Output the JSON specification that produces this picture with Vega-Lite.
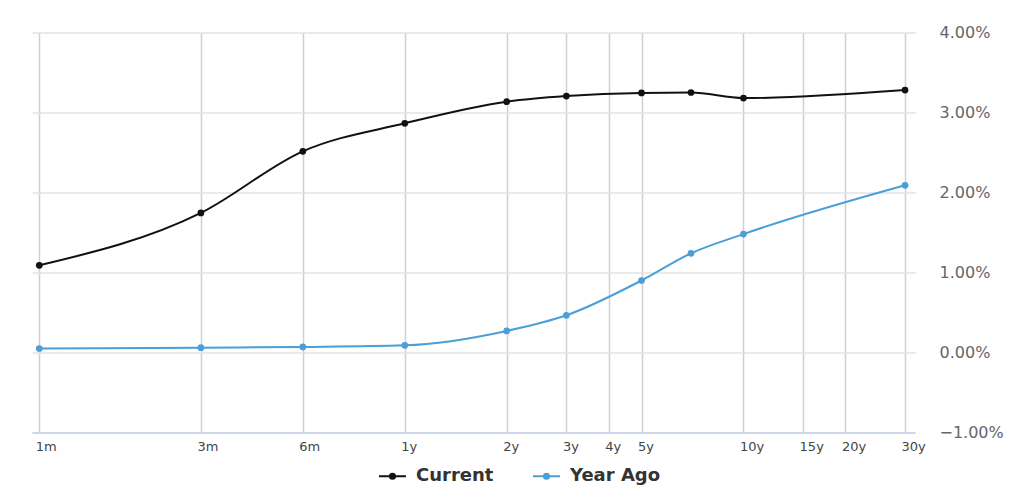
{
  "$schema": "https://vega.github.io/schema/vega-lite/v6.json",
  "width": 883,
  "height": 400,
  "autosize": {"type": "none"},
  "padding": {"left": 32, "top": 32.5, "right": 109, "bottom": 69.5},
  "background": "white",
  "config": {
    "view": {"stroke": null},
    "font": "DejaVu Sans",
    "axis": {"labelFont": "DejaVu Sans"},
    "legend": {"labelFont": "DejaVu Sans"}
  },
  "data": {
    "values": [
      {"series": "Current", "years": 0.0833333, "yield": 1.09},
      {"series": "Current", "years": 0.25, "yield": 1.745},
      {"series": "Current", "years": 0.5, "yield": 2.515},
      {"series": "Current", "years": 1, "yield": 2.865},
      {"series": "Current", "years": 2, "yield": 3.135},
      {"series": "Current", "years": 3, "yield": 3.205},
      {"series": "Current", "years": 5, "yield": 3.245},
      {"series": "Current", "years": 7, "yield": 3.25},
      {"series": "Current", "years": 10, "yield": 3.18},
      {"series": "Current", "years": 30, "yield": 3.28},
      {"series": "Year Ago", "years": 0.0833333, "yield": 0.05},
      {"series": "Year Ago", "years": 0.25, "yield": 0.06},
      {"series": "Year Ago", "years": 0.5, "yield": 0.07},
      {"series": "Year Ago", "years": 1, "yield": 0.09},
      {"series": "Year Ago", "years": 2, "yield": 0.27},
      {"series": "Year Ago", "years": 3, "yield": 0.465},
      {"series": "Year Ago", "years": 5, "yield": 0.9},
      {"series": "Year Ago", "years": 7, "yield": 1.24},
      {"series": "Year Ago", "years": 10, "yield": 1.48},
      {"series": "Year Ago", "years": 30, "yield": 2.09}
    ]
  },
  "encoding": {
    "x": {
      "field": "years",
      "type": "quantitative",
      "scale": {"type": "log", "domain": [0.0793, 32.1], "nice": false},
      "axis": {
        "values": [0.0833333, 0.25, 0.5, 1, 2, 3, 4, 5, 10, 15, 20, 30],
        "labelExpr": "datum.value < 1 ? round(datum.value * 12) + 'm' : datum.value + 'y'",
        "grid": true,
        "gridColor": "#d0d0d0",
        "gridWidth": 1.5,
        "domainColor": "#ccd6eb",
        "domainWidth": 2,
        "ticks": false,
        "labelAlign": "left",
        "labelOffset": -4,
        "labelPadding": 8,
        "labelFontSize": 13,
        "labelColor": "#444444",
        "labelFlush": false,
        "labelOverlap": false,
        "title": null
      }
    },
    "y": {
      "field": "yield",
      "type": "quantitative",
      "scale": {"domain": [-1, 4], "nice": false, "zero": false},
      "axis": {
        "orient": "right",
        "values": [-1, 0, 1, 2, 3, 4],
        "labelExpr": "format(datum.value, '.2f') + '%'",
        "grid": true,
        "gridColor": {"condition": {"test": "datum.value == -1", "value": "#ccd6eb"}, "value": "#e3e3e3"},
        "gridWidth": 1.5,
        "domain": false,
        "ticks": false,
        "labelAlign": "left",
        "labelBaseline": "middle",
        "labelPadding": 24,
        "labelFontSize": 16,
        "labelColor": "#666666",
        "title": null
      }
    },
    "color": {
      "field": "series",
      "type": "nominal",
      "scale": {"domain": ["Current", "Year Ago"], "range": ["#111111", "#4a9fd8"]},
      "legend": {
        "orient": "none",
        "legendX": 346,
        "legendY": 429,
        "direction": "horizontal",
        "title": null,
        "padding": 0,
        "symbolType": "M-1,0L1,0M-0.2,0A0.2,0.2,0,1,0,0.2,0A0.2,0.2,0,1,0,-0.2,0Z",
        "symbolSize": 729,
        "symbolStrokeWidth": 1.8,
        "symbolOpacity": 1,
        "labelFontSize": 18,
        "labelFontWeight": "bold",
        "labelColor": "#333333",
        "labelOffset": 9,
        "columnPadding": 35,
        "encode": {
          "symbols": {
            "update": {
              "fill": {"scale": "color", "field": "value"},
              "stroke": {"scale": "color", "field": "value"}
            }
          }
        }
      }
    }
  },
  "layer": [
    {"mark": {"type": "line", "interpolate": "monotone", "strokeWidth": 2}},
    {"mark": {"type": "point", "filled": true, "size": 45, "opacity": 1}}
  ]
}
